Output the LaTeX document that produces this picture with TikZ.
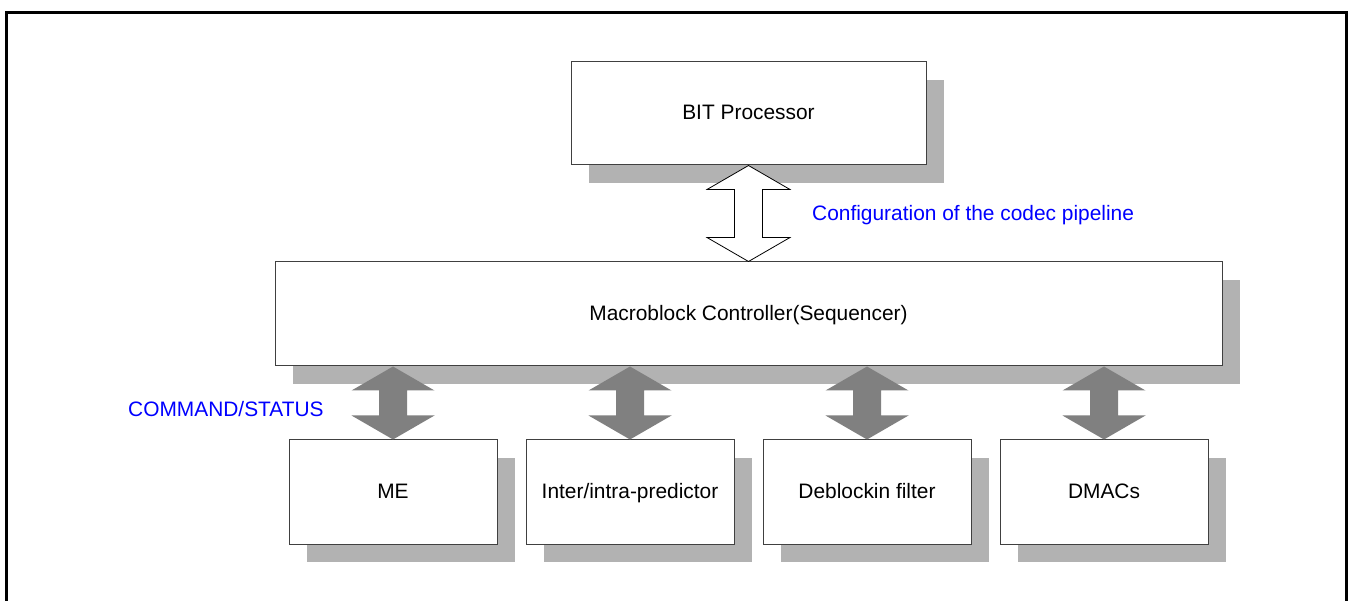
\documentclass[tikz,border=0pt]{standalone}
\usepackage{fontspec}
\setmainfont{Liberation Sans}
\usetikzlibrary{shadows,calc}
\definecolor{boxline}{HTML}{404040}
\definecolor{shadowgray}{HTML}{B2B2B2}
\definecolor{arrowgray}{HTML}{808080}
% two-headed block arrow from tip #2 down to tip #3
\newcommand\biarrow[3]{%
  \path[#1] (#2) -- ($(#2)+(41.5,24)$) -- ($(#2)+(14,24)$) -- ($(#3)+(14,-24)$)
    -- ($(#3)+(41.5,-24)$) -- (#3) -- ($(#3)+(-41.5,-24)$) -- ($(#3)+(-14,-24)$)
    -- ($(#2)+(-14,24)$) -- ($(#2)+(-41.5,24)$) -- cycle;}
\begin{document}
\begin{tikzpicture}[x=1pt, y=-1pt, font=\fontsize{20.9}{25}\selectfont,
  blk/.style={draw=boxline, fill=white, line width=1pt, inner sep=0pt, text height=0.716em+5pt, text depth=0pt,
    drop shadow={shadow xshift=18pt, shadow yshift=-18pt, fill=shadowgray, opacity=1}},
  lbl/.style={text=blue, anchor=base west, inner sep=0pt}]
  \useasboundingbox (0,0) rectangle (1353,601);
  \draw[line width=3pt] (6.5,605) -- (6.5,12.5) -- (1346.5,12.5) -- (1346.5,605);
  \node[blk, minimum width=355pt, minimum height=103pt] (bit) at (748.5,113.5) {BIT Processor};
  \node[blk, minimum width=947pt, minimum height=104pt] (mb) at (748.5,314) {Macroblock Controller(Sequencer)};
  \node[blk, minimum width=208pt, minimum height=104pt] (me) at (393,492) {ME};
  \node[blk, minimum width=208pt, minimum height=104pt] (pred) at (630,492) {Inter/intra-predictor};
  \node[blk, minimum width=208pt, minimum height=104pt] (dbf) at (867,492) {Deblockin filter};
  \node[blk, minimum width=208pt, minimum height=104pt] (dma) at (1104,492) {DMACs};
  \biarrow{draw=black, fill=white, line width=0.8pt}{bit.south}{mb.north}
  \foreach \n in {me,pred,dbf,dma}
    \biarrow{fill=arrowgray}{mb.south -| \n.north}{\n.north};
  \node[lbl] (cfg) at (812,221) {Configuration of the codec pipeline};
  \node[lbl] (cmd) at (128,417) {COMMAND/STATUS};
\end{tikzpicture}
\end{document}
